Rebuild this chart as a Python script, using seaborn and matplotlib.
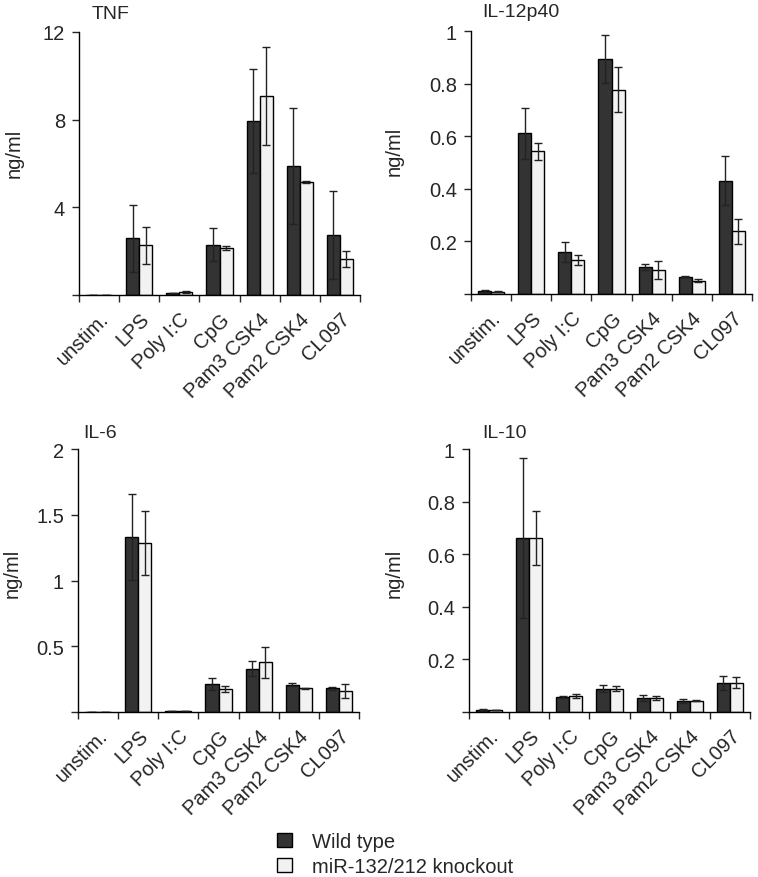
import pandas as pd
import matplotlib
matplotlib.use("Agg")
import matplotlib.pyplot as plt
import seaborn as sns
from matplotlib.patches import Patch

sns.set_style("ticks")
plt.rcParams['font.family'] = ['Liberation Sans', 'DejaVu Sans']

# Stimuli and genotypes
stimuli = ["unstim.", "LPS", "Poly I:C", "CpG", "Pam3 CSK4", "Pam2 CSK4", "CL097"]
groups = ["Wild type", "miR-132/212 knockout"]
colors = ["#333333", "#f2f2f2"]

# Means and error, ng/ml
tnf_wt = [0.02, 2.58, 0.09, 2.29, 7.94, 5.89, 2.75]
tnf_ko = [0.02, 2.26, 0.12, 2.15, 9.07, 5.16, 1.65]
tnf_wt_err = [0.0, 1.53, 0.02, 0.76, 2.39, 2.64, 2.0]
tnf_ko_err = [0.0, 0.84, 0.04, 0.10, 2.23, 0.04, 0.38]

il12_wt = [0.010, 0.611, 0.160, 0.893, 0.102, 0.066, 0.430]
il12_ko = [0.008, 0.542, 0.130, 0.777, 0.092, 0.050, 0.238]
il12_wt_err = [0.004, 0.096, 0.037, 0.090, 0.011, 0.003, 0.093]
il12_ko_err = [0.002, 0.034, 0.019, 0.085, 0.035, 0.006, 0.048]

il6_wt = [0.003, 1.33, 0.007, 0.213, 0.330, 0.208, 0.180]
il6_ko = [0.003, 1.284, 0.008, 0.173, 0.378, 0.180, 0.162]
il6_wt_err = [0.0, 0.325, 0.002, 0.046, 0.058, 0.012, 0.012]
il6_ko_err = [0.0, 0.244, 0.003, 0.023, 0.118, 0.006, 0.053]

il10_wt = [0.008, 0.662, 0.058, 0.089, 0.053, 0.042, 0.110]
il10_ko = [0.007, 0.662, 0.060, 0.089, 0.053, 0.043, 0.112]
il10_wt_err = [0.002, 0.305, 0.003, 0.013, 0.010, 0.006, 0.027]
il10_ko_err = [0.001, 0.103, 0.008, 0.011, 0.008, 0.003, 0.020]

panels = [
    ("TNF", tnf_wt, tnf_ko, tnf_wt_err, tnf_ko_err, [0, 4, 8, 12], ["", "4", "8", "12"],
     [79, 296], (0.046, 1.053), (-0.196, 0.544)),
    ("IL-12p40", il12_wt, il12_ko, il12_wt_err, il12_ko_err, [0, 0.2, 0.4, 0.6, 0.8, 1],
     ["", "0.2", "0.4", "0.6", "0.8", "1"], [471, 295], (0.039, 1.057), (-0.238, 0.546)),
    ("IL-6", il6_wt, il6_ko, il6_wt_err, il6_ko_err, [0, 0.5, 1, 1.5, 2],
     ["", "0.5", "1", "1.5", "2"], [78, 713], (0.018, 1.046), (-0.199, 0.532)),
    ("IL-10", il10_wt, il10_ko, il10_wt_err, il10_ko_err, [0, 0.2, 0.4, 0.6, 0.8, 1],
     ["", "0.2", "0.4", "0.6", "0.8", "1"], [469, 713], (0.046, 1.046), (-0.231, 0.532)),
]

W, H = 758, 878
fig = plt.figure(figsize=(W / 100, H / 100), dpi=100)

for title, wt, ko, wt_err, ko_err, yticks, ylabels, (left, bottom), tpos, lpos in panels:
    ax = fig.add_axes([left / W, 1 - bottom / H, 281 / W, 263 / H])
    df = pd.DataFrame({
        "stimulus": stimuli * 2,
        "group": [groups[0]] * 7 + [groups[1]] * 7,
        "value": wt + ko,
    })
    sns.barplot(data=df, x="stimulus", y="value", hue="group", hue_order=groups,
                palette=colors, errorbar=None, width=0.65, edgecolor="black",
                linewidth=1, legend=False, ax=ax)
    for cont, errs in zip(ax.containers, [wt_err, ko_err]):
        for patch, e in zip(cont.patches, errs):
            ax.errorbar(patch.get_x() + patch.get_width() / 2, patch.get_height(), yerr=e,
                        color="#222222", elinewidth=1, capsize=2.8, capthick=1, fmt="none")
    ax.set_xlim(-0.5, 6.5)
    ax.set_ylim(0, yticks[-1])
    ax.set_yticks(yticks)
    ax.set_yticklabels(ylabels, fontsize=14.5)
    ax.set_xticks(range(7))
    ax.set_xticklabels(stimuli, rotation=45, ha="right", rotation_mode="anchor", fontsize=14.5)
    ax.set_xticks([i - 0.5 for i in range(8)], minor=True)
    ax.tick_params(axis="x", which="major", length=0, pad=10)
    ax.tick_params(axis="x", which="minor", length=5, width=1, direction="out")
    ax.tick_params(axis="y", length=5, width=1, direction="out", pad=5)
    ax.set_xlabel("")
    ax.set_ylabel("ng/ml", fontsize=14.5)
    ax.yaxis.set_label_coords(*lpos)
    ax.text(tpos[0], tpos[1], title, transform=ax.transAxes, ha="left", va="baseline", fontsize=14)
    sns.despine(ax=ax)
    for s in ["left", "bottom"]:
        ax.spines[s].set_linewidth(1)
        ax.spines[s].set_color("black")

handles = [Patch(facecolor=c, edgecolor="black", linewidth=1, label=g) for c, g in zip(colors, groups)]
fig.legend(handles=handles, loc="upper left", bbox_to_anchor=(277 / W, 1 - 833 / H),
           frameon=False, fontsize=14.5, handlelength=0.75, handleheight=0.75,
           handletextpad=1.0, labelspacing=0.3, borderpad=0, borderaxespad=0)

fig.savefig("out.png", dpi=100)
